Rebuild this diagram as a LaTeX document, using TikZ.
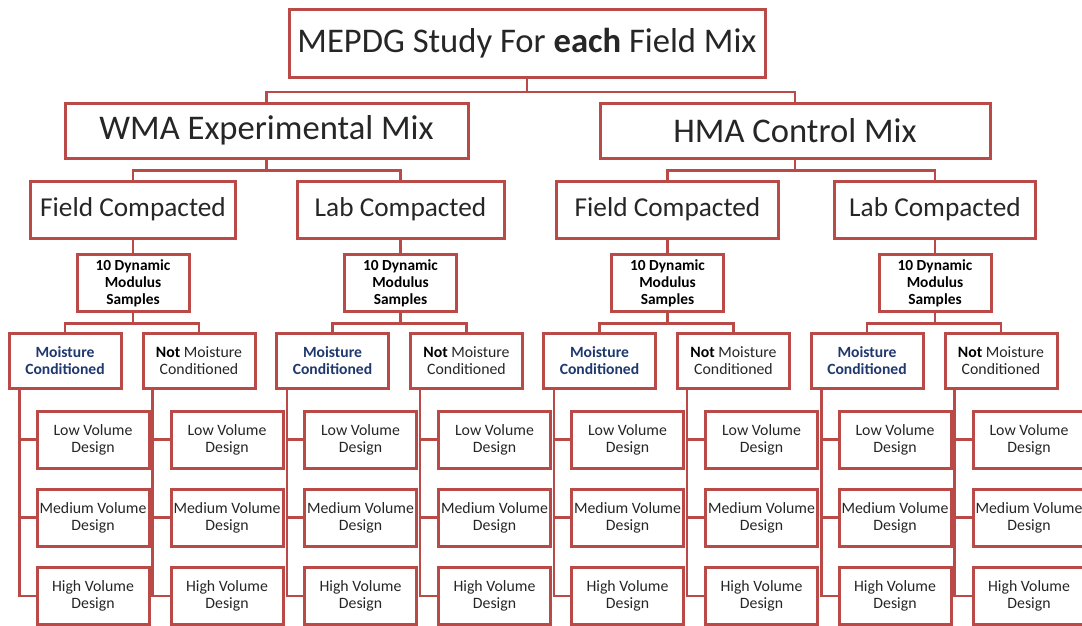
\documentclass[tikz,border=0pt]{standalone}
\usepackage{fontspec}
\setmainfont{Carlito}
\usetikzlibrary{calc}
\definecolor{bord}{RGB}{185,74,71}
\definecolor{navy}{RGB}{31,56,110}
\definecolor{txt}{RGB}{38,38,38}
\tikzset{
  box/.style={draw=bord, line width=3pt, fill=white, inner sep=0pt, align=center, text=txt, anchor=center},
  conn/.style={draw=bord, line width=2.5pt},
  bigbox/.style={box, font=\fontsize{34.6}{40}\selectfont},
  midbox/.style={box, minimum height=57pt, font=\fontsize{27.3}{31}\selectfont},
  smallbox/.style={box, minimum width=112pt, font=\fontsize{15.8}{17}\selectfont},
}
\begin{document}
\begin{tikzpicture}[x=1pt,y=-1pt]
\useasboundingbox (0,0) rectangle (1082,625);
\clip (0,0) rectangle (1082,625);
\node[bigbox, minimum width=476pt, minimum height=68pt] (top) at (527,43) {MEPDG Study For \textbf{each} Field Mix};
\node[bigbox, minimum width=403pt, minimum height=55pt] (wma) at (266.5,130.5) {WMA Experimental Mix};
\node[bigbox, minimum width=390pt, minimum height=55pt] (hma) at (795,130.5) {HMA Control Mix};
\draw[conn] (top.south) -- +(0,13.5) -| (wma.north);
\draw[conn] (top.south) -- +(0,13.5) -| (hma.north);
\node[midbox, minimum width=205pt] (fa) at (133,209.5) {Field Compacted};
\node[midbox, minimum width=207pt] (la) at (400.5,209.5) {Lab Compacted};
\node[midbox, minimum width=222pt] (fb) at (667.5,209.5) {Field Compacted};
\node[midbox, minimum width=201pt] (lb) at (935,209.5) {Lab Compacted};
\draw[conn] (wma.south) -- +(0,11) -| (fa.north);
\draw[conn] (wma.south) -- +(0,11) -| (la.north);
\draw[conn] (hma.south) -- +(0,11) -| (fb.north);
\draw[conn] (hma.south) -- +(0,11) -| (lb.north);
\foreach \c/\i/\p in {133/1/fa, 400.5/2/la, 667.5/3/fb, 935/4/lb} {
  \node[smallbox, minimum height=57pt, font=\fontsize{15.4}{17}\selectfont\bfseries, text=black] (dyn\i) at (\c,283) {10 Dynamic\\Modulus\\Samples};
  \draw[conn] (\p.south) -- (dyn\i.north);
  \node[smallbox, minimum height=55pt, font=\fontsize{15.6}{16.5}\selectfont\bfseries, text=navy] (m\i) at (\c-68,360.5) {Moisture\\Conditioned};
  \node[smallbox, minimum height=55pt, font=\fontsize{15.8}{16.5}\selectfont] (n\i) at (\c+66,360.5) {\textbf{\color{black}Not} Moisture\\Conditioned};
  \draw[conn] (dyn\i.south) -- +(0,10.5) -| (m\i.north);
  \draw[conn] (dyn\i.south) -- +(0,10.5) -| (n\i.north);
  \coordinate (ms\i) at ($(m\i.south west)+(12,0)$);
  \coordinate (ns\i) at ($(n\i.south west)+(11,0)$);
  \foreach \yy/\t/\k in {439.5/Low/1, 517.5/Medium/2, 596/High/3} {
    \node[smallbox, minimum height=57pt] (ml\i\k) at (\c-40,\yy) {\t{} Volume\\Design};
    \node[smallbox, minimum height=57pt] (nl\i\k) at (\c+94,\yy) {\t{} Volume\\Design};
    \draw[conn] (ms\i) |- (ml\i\k.west);
    \draw[conn] (ns\i) |- (nl\i\k.west);
  }
}
\end{tikzpicture}
\end{document}
